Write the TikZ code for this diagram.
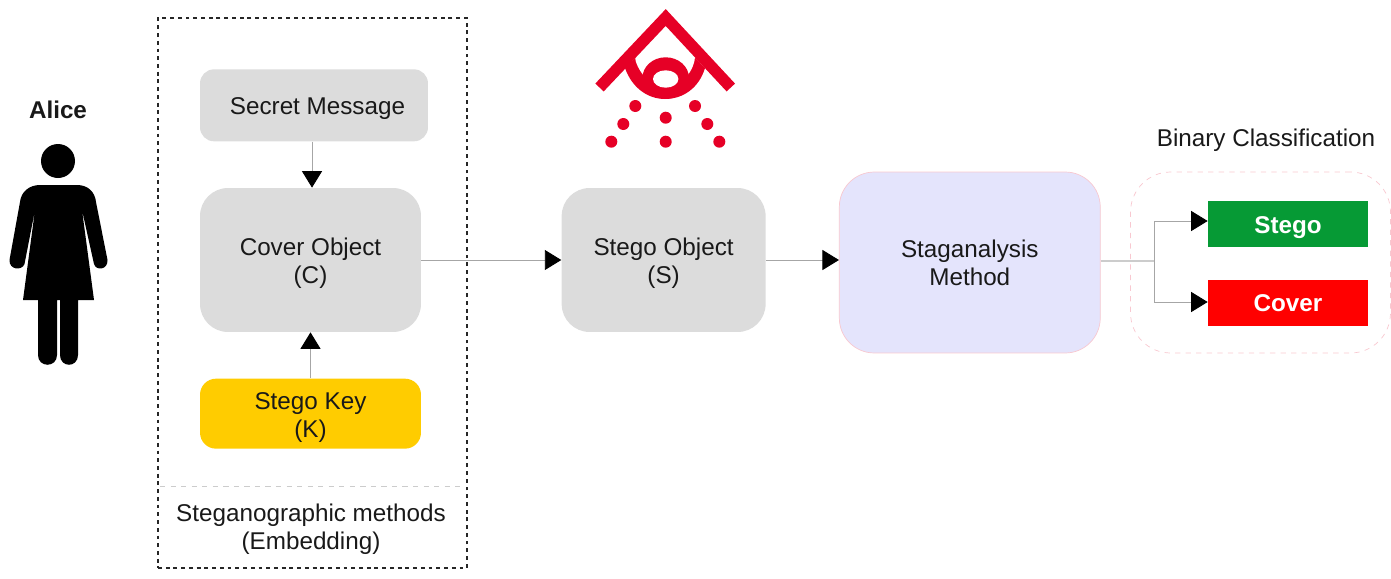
\documentclass[tikz,border=0pt]{standalone}
\usepackage{fontspec}
\setmainfont{Liberation Sans}
\usepackage{xcolor}
\usepackage{tikz}
\usetikzlibrary{arrows.meta,positioning}
\definecolor{boxgray}{HTML}{DCDCDC}
\definecolor{keyyellow}{HTML}{FFCC00}
\definecolor{methodblue}{HTML}{E4E4FC}
\definecolor{edgepink}{HTML}{F8C8D0}
\definecolor{stegogreen}{HTML}{069A35}
\definecolor{eyered}{HTML}{E60026}
\newcommand{\lowertext}{\rule{0pt}{0.48cm}}
\begin{document}
\begin{tikzpicture}[x=0.02cm,y=-0.02cm,every node/.style={font=\fontsize{13.8}{15.9}\selectfont,align=center,text=black!90},
box/.style 2 args={fill=#1,rounded corners=#2,inner sep=0pt},
result/.style={fill=#1,minimum width=3.2cm,minimum height=0.92cm,inner sep=0pt,font=\fontsize{13.8}{15.9}\selectfont\bfseries,text=white},
flow/.style={-{Triangle[color=black,length=0.33cm,width=0.4cm]},gray!70,line width=0.5pt}]
\useasboundingbox (0,0) rectangle (1391,578);
\node[draw=black!85,line width=1.5pt,dash pattern=on 2.2pt off 2.2pt,minimum width=6.18cm,minimum height=11cm,inner sep=0pt] (embed) at (312.5,293) {};
\node[box={boxgray}{0.56cm},minimum width=4.42cm,minimum height=2.88cm] (cover) at (310.5,260) {\lowertext Cover Object\\(C)};
\node[box={boxgray}{0.28cm},minimum width=4.56cm,minimum height=1.44cm,above=0.92cm of cover,xshift=0.07cm] (secret) {\hspace*{0.14cm}\lowertext Secret Message};
\node[box={keyyellow}{0.32cm},minimum width=4.42cm,minimum height=1.4cm,below=0.92cm of cover] (key) {\lowertext Stego Key\\(K)};
\node[box={boxgray}{0.56cm},minimum width=4.08cm,minimum height=2.88cm,right=2.8cm of cover] (stegoobj) {\lowertext Stego Object\\(S)};
\node[box={methodblue}{0.7cm},draw=edgepink,line width=0.4pt,minimum width=5.22cm,minimum height=3.62cm,right=1.46cm of stegoobj,yshift=-0.05cm] (method) {Staganalysis\\Method};
\node[draw=edgepink,dashed,line width=0.4pt,rounded corners=0.8cm,minimum width=5.2cm,minimum height=3.62cm,inner sep=0pt] (binary) at (1260.5,262.5) {};
\node[result=stegogreen] (stego) at (1288,224) {\lowertext Stego};
\node[result=red,below=0.64cm of stego] (coverout) {Cover};
\node (binarylabel) at (1266,140) {Binary Classification};
\node[font=\fontsize{13.8}{15.9}\selectfont\bfseries] (alice) at (58,110) {Alice};
\node (embedlabel) at (311,529) {Steganographic methods\\(Embedding)};
\coordinate (split) at (1154,261);
\coordinate (divleft) at (160,486);
\coordinate (divright) at (465,486);
\draw[gray!40,dashed,line width=0.4pt] (divleft) -- (divright);
\draw[flow] (secret.south -| 312,0) -- (cover.north -| 312,0);
\draw[flow] (key.north) -- (cover.south);
\draw[flow] (cover.east) -- (stegoobj.west);
\draw[flow] (stegoobj.east) -- (method.west |- stegoobj.east);
\draw[gray!40,line width=0.7pt] (method.east |- split) -- (split);
\draw[flow] (split) |- (stego.west |- 0,221);
\draw[flow] (split) |- (coverout.west |- 0,302);
% person
\fill[black] (58,161) circle[radius=17];
\fill[black] (40,185) -- (77,185) .. controls (88,185) and (95,192) .. (96,202) -- (107.5,260) .. controls (108,270) and (96,271) .. (94,264) -- (82,210) -- (94,300) -- (78,300) -- (78,355) .. controls (78,368) and (60,368) .. (60,355) -- (60,300) -- (57,300) -- (57,355) .. controls (57,368) and (38,368) .. (38,355) -- (38,300) -- (23,300) -- (35,210) -- (24.5,264) .. controls (22,271) and (9,270) .. (9.5,260) -- (20,202) .. controls (21,192) and (29,185) .. (40,185) -- cycle;
% eye logo
\fill[eyered] (625,68) .. controls (632,88) and (648,99) .. (665,99) .. controls (683,99) and (699,88) .. (705,68) -- (666,27) -- cycle;
\fill[white] (665.7,25) -- (695,56.5) .. controls (695,62) and (692,70) .. (687,76) -- (644,76) .. controls (639,70) and (635,62) .. (635,56.5) -- cycle;
\fill[eyered] (665.7,78) ellipse[x radius=23.3,y radius=20.7];
\fill[white] (665.7,79) ellipse[x radius=12.7,y radius=8.7];
\draw[eyered,line width=0.23cm,line join=miter] (599.5,87.5) -- (665.7,17.5) -- (730.8,87.5);
\foreach \px/\py in {635.3/106,695/106,623.3/124,707.3/124,665.7/117.7,611.3/141.7,665.7/141.7,719.3/141.7}
  \fill[eyered] (\px,\py) circle[radius=6];
\end{tikzpicture}
\end{document}
